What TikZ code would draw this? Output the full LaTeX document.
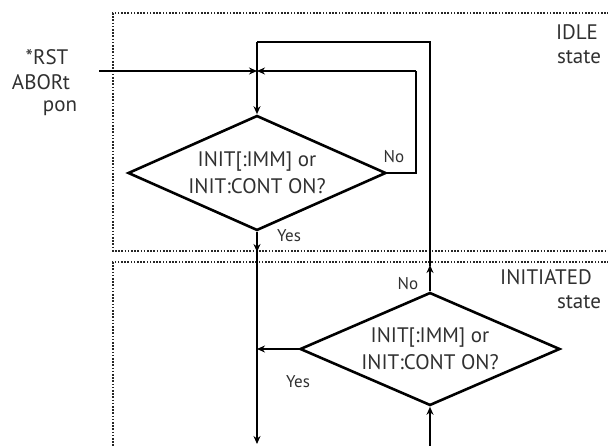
\documentclass[tikz,border=0pt]{standalone}
\usepackage{fontspec}
\setmainfont{PT Sans}
\usetikzlibrary{shapes.geometric,arrows.meta}
\definecolor{txt}{HTML}{303030}
\begin{document}
\begin{tikzpicture}[x=1pt,y=-1pt,
  line/.style={line width=2.6pt,black},
  arr/.style={line/.try,-{Stealth[length=8pt,width=7pt]}},
  statebox/.style={line width=2.2pt,dash pattern=on 1.6pt off 1.6pt,black!85},
  lbl/.style={text=txt,font=\fontsize{21}{24}\selectfont,inner sep=0pt},
  small/.style={text=txt,font=\fontsize{17}{19}\selectfont,inner sep=0pt},
  dec/.style={draw,line width=2.6pt,diamond,aspect=2.25,inner sep=0pt,minimum width=258pt,minimum height=115pt,text=txt,font=\fontsize{21}{27}\selectfont,align=center}]
\useasboundingbox (0,0) rectangle (608,446);
% state boxes
\draw[statebox] (625,13) -- (113,13) -- (113,251) -- (625,251);
\draw[statebox] (625,262) -- (113,262) -- (113,460);
% decisions
\node[dec] (d1) at (257,173) {INIT[:IMM] or\\INIT:CONT ON?};
\node[dec,minimum width=260pt,minimum height=113pt] (d2) at (430,349) {INIT[:IMM] or\\INIT:CONT ON?};
% junction and coordinates
\coordinate (j) at (257,71);
\coordinate (in) at (99,71);
\coordinate (loopA) at (416,71);
\coordinate (topL) at (257,42);
\coordinate (mid) at (257,349);
\coordinate (bot) at (257,444);
\coordinate (bot2) at (430,446);
% connectors
\draw[arr] (in) -- (j);
\draw[line] (d1.east) -| (loopA);
\draw[arr] (loopA) -- (j);
\draw[line] (topL) -- (j);
\draw[arr] (j) -- (d1.north);
\draw[arr] (d1.south) -- (257,252);
\draw[arr] (257,250) -- (bot);
\draw[arr] (d2.west) -- (mid);
\draw[arr] (d2.north) -- (430,265);
\draw[line] (430,266) |- (topL);
\draw[arr] (bot2) -- (d2.south);
% labels
\node[lbl] (rst) at (47,57) {*RST};
\node[lbl] (abort) at (41,82) {ABORt};
\node[lbl] (pon) at (60,108) {pon};
\node[lbl] (idle) at (577,32) {IDLE};
\node[lbl] (st1) at (579,57) {state};
\node[lbl] (init) at (546,277) {INITIATED};
\node[lbl] (st2) at (579,302) {state};
\node[small] (no1) at (394,157) {No};
\node[small] (yes1) at (289,236) {Yes};
\node[small] (no2) at (408,284) {No};
\node[small] (yes2) at (298,382) {Yes};
\end{tikzpicture}
\end{document}
